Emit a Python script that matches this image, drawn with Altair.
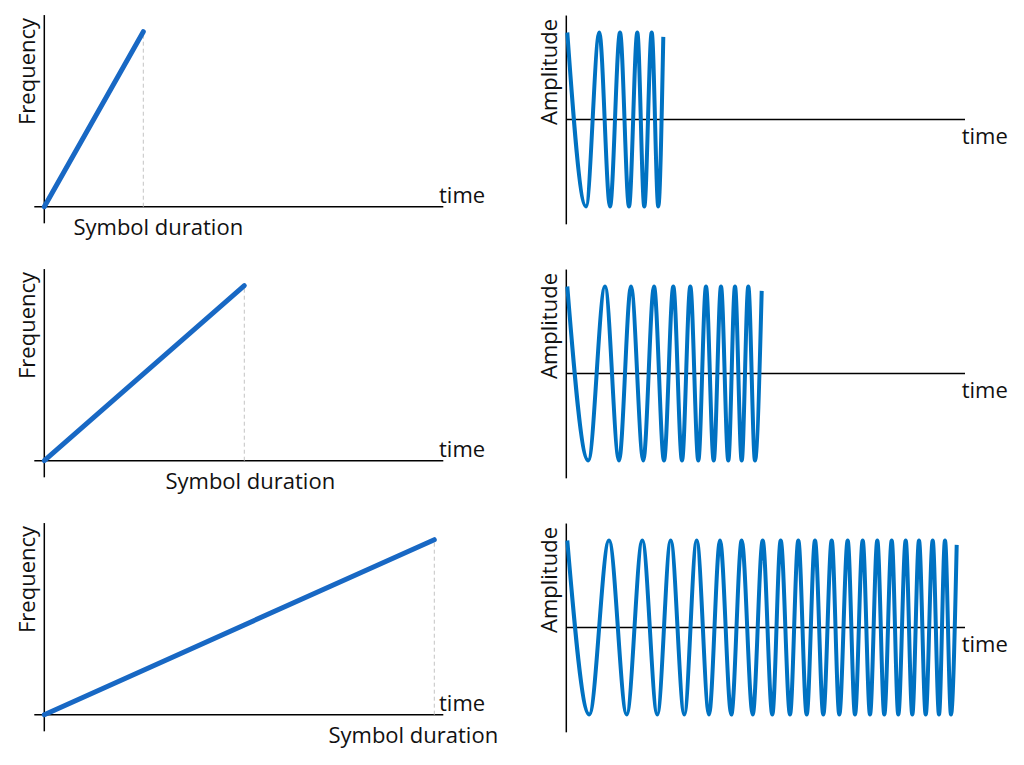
import altair as alt
import pandas as pd

# ---------------- values ----------------
symbol_duration = [99, 200, 390]      # end of each linear frequency ramp (time units)
freq_start = [0.0, 0.0, 0.0]
freq_end = [1.0, 1.0, 1.0]

# extrema of the chirp waveforms (time of each peak / trough, amplitude)
wave1_t = [1, 19.7, 33, 43.7, 53.7, 62.7, 71, 78, 85.4, 92, 97]
wave1_a = [1, -1, 1, -1, 1, -1, 1, -1, 1, -1, 0.95]

wave2_t = [1, 22, 38.7, 52.7, 64.7, 77, 87.7, 97.7, 107, 115.7, 124, 132,
           139.7, 147.4, 154.7, 162, 168.7, 175.4, 182, 188.7, 195.4]
wave2_a = [1, -1, 1, -1, 1, -1, 1, -1, 1, -1, 1, -1,
           1, -1, 1, -1, 1, -1, 1, -1, 0.95]

wave3_t = [1, 23, 42.7, 60.4, 76, 91, 104.4, 118, 130.4, 142.7, 153.7, 165,
           175.4, 186.4, 196.4, 206, 214.4, 223.7, 232, 240.4, 248.7, 257,
           265.4, 273, 281.4, 288.7, 296.4, 303.7, 311, 318, 325.4, 332,
           339.4, 346, 352.7, 359.4, 366.4, 372.7, 378.7, 384.7, 390.4]
wave3_a = [1, -1, 1, -1, 1, -1, 1, -1, 1, -1, 1, -1,
           1, -1, 1, -1, 1, -1, 1, -1, 1, -1,
           1, -1, 1, -1, 1, -1, 1, -1, 1, -1,
           1, -1, 1, -1, 1, -1, 1, -1, 0.95]

waves_t = [wave1_t, wave2_t, wave3_t]
waves_a = [wave1_a, wave2_a, wave3_a]

freq_title = "Frequency"
amp_title = "Amplitude"
time_title = "time"
duration_title = "Symbol duration"

# ---------------- layout ----------------
FONT = "Open Sans"
FS = 22
TXT = "#111111"
AXC = "#000000"
LEFT_BLUE = "#1868c4"
RIGHT_BLUE = "#0072c2"

L_W, R_W = 520, 484
ROW_H = [254, 254, 240]
DUR_DX = [15, 6, -21]

# left panel: local pixel of t=0 / f=0 and pixels per unit
LX0, LY0, LKF = 36.3, 198.7, 175.0
# right panel
RX0, RY0, RKA = 38.3, 111.5, 87.0


def left_panel(i):
    H = ROW_H[i]
    xs = alt.Scale(domain=[-LX0, L_W - LX0], nice=False, zero=False)
    ys = alt.Scale(domain=[(LY0 - H) / LKF, LY0 / LKF], nice=False, zero=False)
    ax = pd.DataFrame({"t": [-10, 0], "t2": [399, 0],
                       "v": [0, -0.095], "v2": [0, 1.095]})
    axes = alt.Chart(ax).mark_rule(color=AXC, strokeWidth=1.5).encode(
        x=alt.X("t:Q", scale=xs, axis=None), x2="t2:Q",
        y=alt.Y("v:Q", scale=ys, axis=None), y2="v2:Q")
    d = symbol_duration[i]
    dash_df = pd.DataFrame({"t": [d], "v": [freq_start[i]], "v2": [freq_end[i]]})
    dash = alt.Chart(dash_df).mark_rule(color="#c4c4c4", strokeWidth=1,
                                        strokeDash=[4, 3]).encode(
        x=alt.X("t:Q", scale=xs, axis=None),
        y=alt.Y("v:Q", scale=ys, axis=None), y2="v2:Q")
    ramp_df = pd.DataFrame({"t": [0, d], "v": [freq_start[i], freq_end[i]]})
    ramp = alt.Chart(ramp_df).mark_line(color=LEFT_BLUE, strokeWidth=5,
                                        strokeCap="round").encode(
        x=alt.X("t:Q", scale=xs, axis=None),
        y=alt.Y("v:Q", scale=ys, axis=None))
    time_df = pd.DataFrame({"t": [394.7], "v": [0.021], "s": [time_title]})
    time_t = alt.Chart(time_df).mark_text(font=FONT, fontSize=FS, color=TXT,
                                          align="left", baseline="alphabetic").encode(
        x=alt.X("t:Q", scale=xs, axis=None),
        y=alt.Y("v:Q", scale=ys, axis=None), text="s:N")
    dur_df = pd.DataFrame({"t": [d], "v": [-0.16], "s": [duration_title]})
    dur_t = alt.Chart(dur_df).mark_text(font=FONT, fontSize=FS, color=TXT,
                                        align="center", baseline="alphabetic",
                                        dx=DUR_DX[i]).encode(
        x=alt.X("t:Q", scale=xs, axis=None),
        y=alt.Y("v:Q", scale=ys, axis=None), text="s:N")
    fq_df = pd.DataFrame({"t": [-9.3], "v": [0.7726], "s": [freq_title]})
    fq_t = alt.Chart(fq_df).mark_text(font=FONT, fontSize=FS, color=TXT,
                                      align="center", baseline="alphabetic",
                                      angle=270).encode(
        x=alt.X("t:Q", scale=xs, axis=None),
        y=alt.Y("v:Q", scale=ys, axis=None), text="s:N")
    return alt.layer(axes, dash, ramp, time_t, dur_t, fq_t).properties(
        width=L_W, height=H)


def right_panel(i):
    H = ROW_H[i]
    xs = alt.Scale(domain=[-RX0, R_W - RX0], nice=False, zero=False)
    ys = alt.Scale(domain=[(RY0 - H) / RKA, RY0 / RKA], nice=False, zero=False)
    ax = pd.DataFrame({"t": [0, 0], "t2": [398.7, 0],
                       "v": [0, -1.205], "v2": [0, 1.195]})
    axes = alt.Chart(ax).mark_rule(color=AXC, strokeWidth=1.5).encode(
        x=alt.X("t:Q", scale=xs, axis=None), x2="t2:Q",
        y=alt.Y("v:Q", scale=ys, axis=None), y2="v2:Q")
    wdf = pd.DataFrame({"t": waves_t[i], "v": waves_a[i]})
    wave = alt.Chart(wdf).mark_line(color=RIGHT_BLUE, strokeWidth=4,
                                    interpolate="monotone").encode(
        x=alt.X("t:Q", scale=xs, axis=None),
        y=alt.Y("v:Q", scale=ys, axis=None))
    time_df = pd.DataFrame({"t": [395.4], "v": [-0.282], "s": [time_title]})
    time_t = alt.Chart(time_df).mark_text(font=FONT, fontSize=FS, color=TXT,
                                          align="left", baseline="alphabetic").encode(
        x=alt.X("t:Q", scale=xs, axis=None),
        y=alt.Y("v:Q", scale=ys, axis=None), text="s:N")
    amp_df = pd.DataFrame({"t": [-9.6], "v": [0.546], "s": [amp_title]})
    amp_t = alt.Chart(amp_df).mark_text(font=FONT, fontSize=FS, color=TXT,
                                        align="center", baseline="alphabetic",
                                        angle=270).encode(
        x=alt.X("t:Q", scale=xs, axis=None),
        y=alt.Y("v:Q", scale=ys, axis=None), text="s:N")
    return alt.layer(axes, wave, time_t, amp_t).properties(width=R_W, height=H)


rows_charts = [alt.hconcat(left_panel(i), right_panel(i), spacing=0) for i in range(3)]
chart = alt.vconcat(*rows_charts, spacing=0).properties(padding=0).configure_view(
    stroke=None)

chart.save("out.html", embed_options={"renderer": "svg", "actions": False})
